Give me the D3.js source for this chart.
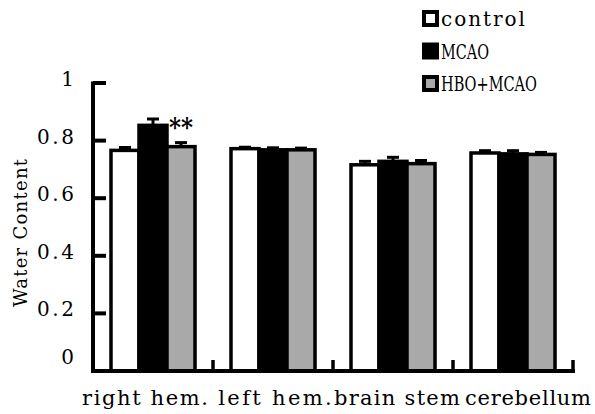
<!DOCTYPE html>
<html>
<head>
<meta charset="utf-8">
<script src="https://cdn.jsdelivr.net/npm/d3@7"></script>
<style>
  body { margin: 0; background: #fff; }
  text { font-family: "DejaVu Serif", "Liberation Serif", serif; fill: #000; }
</style>
</head>
<body>
<svg></svg>
<script>
const WIDTH = 595;
const HEIGHT = 414;
const BAR_STROKE = 3.5;
const GRAY = '#a9a9a9';

// data
const categories = ['right hem.', 'left hem.', 'brain stem', 'cerebellum'];
const seriesNames = ['control', 'MCAO', 'HBO+MCAO'];
const control = [0.766, 0.772, 0.716, 0.757];
const controlErr = [0.010, 0.005, 0.012, 0.008];
const mcao = [0.853, 0.768, 0.728, 0.754];
const mcaoErr = [0.022, 0.007, 0.014, 0.011];
const hbo = [0.779, 0.768, 0.720, 0.752];
const hboErr = [0.014, 0.006, 0.011, 0.007];
const yTicks = [0, 0.2, 0.4, 0.6, 0.8, 1];
const yTickLabels = ['0', '0.2', '0.4', '0.6', '0.8', '1'];
const labelShift = [-8, 2, 4, 15];

const fills = ['#fff', '#000', GRAY];
const values = [control, mcao, hbo];
const errors = [controlErr, mcaoErr, hboErr];

// the source font is a fixed-width one, so texts are fitted to a char width
const CHAR_W = 12.6;

// fit text to a length: open up spacing when short, squeeze glyphs when long
function fit(sel, len) {
    sel.each(function(d, i) {
        var t = d3.select(this);
        var target = len(d, i);
        if (!target) return;
        var natural = this.getComputedTextLength();
        t.attr('textLength', target)
            .attr('lengthAdjust', natural < target ? 'spacing' : 'spacingAndGlyphs');
    });
}

var svg = d3.select('svg')
    .attr('width', WIDTH)
    .attr('height', HEIGHT);

/* scales */
var x0 = d3.scaleBand()
    .domain(categories)
    .range([93, 573])
    .paddingInner(0.3)
    .paddingOuter(0.15);

var x1 = d3.scaleBand()
    .domain(seriesNames)
    .range([0, x0.bandwidth()]);

var y = d3.scaleLinear()
    .domain([0, 1])
    .range([371, 83]);

/* bars */
var groups = svg.append('g')
    .selectAll('g')
    .data(categories)
    .join('g')
    .attr('transform', d => 'translate(' + x0(d) + ',0)');

const cells = (c, i) => seriesNames.map((s, k) => ({ s, k, v: values[k][i], e: errors[k][i] }));

groups.selectAll('rect')
    .data(cells)
    .join('rect')
    .attr('x', d => x1(d.s))
    .attr('y', d => y(d.v))
    .attr('width', x1.bandwidth())
    .attr('height', d => y(0) - y(d.v))
    .attr('fill', d => fills[d.k])
    .attr('stroke', '#000')
    .attr('stroke-width', BAR_STROKE);

/* error bars, upper half only */
var err = groups.selectAll('g.err')
    .data(cells)
    .join('g')
    .attr('class', 'err')
    .attr('stroke', '#000')
    .attr('stroke-width', 3);

err.append('line')
    .attr('x1', d => x1(d.s) + x1.bandwidth() / 2)
    .attr('x2', d => x1(d.s) + x1.bandwidth() / 2)
    .attr('y1', d => y(d.v))
    .attr('y2', d => y(d.v + d.e));

err.append('line')
    .attr('x1', d => x1(d.s) + x1.bandwidth() / 2 - 6)
    .attr('x2', d => x1(d.s) + x1.bandwidth() / 2 + 6)
    .attr('y1', d => y(d.v + d.e))
    .attr('y2', d => y(d.v + d.e));

/* significance mark */
svg.append('text')
    .attr('x', x0(categories[0]) + x1('HBO+MCAO') + x1.bandwidth() / 2)
    .attr('y', y(hbo[0] + hboErr[0]) - 7)
    .attr('text-anchor', 'middle')
    .attr('font-size', 26)
    .attr('font-weight', 'bold')
    .attr('textLength', 24)
    .attr('lengthAdjust', 'spacingAndGlyphs')
    .text('**');

/* y axis */
svg.append('line')
    .attr('x1', 93).attr('x2', 93)
    .attr('y1', y(1) - 1.5).attr('y2', y(0) + 1.5)
    .attr('stroke', '#000').attr('stroke-width', 4);

svg.append('g')
    .selectAll('line')
    .data(yTicks.filter(d => d > 0))
    .join('line')
    .attr('x1', 93).attr('x2', 106)
    .attr('y1', d => y(d)).attr('y2', d => y(d))
    .attr('stroke', '#000').attr('stroke-width', 4);

svg.append('g')
    .selectAll('text')
    .data(yTicks)
    .join('text')
    .attr('x', 74)
    .attr('y', d => y(d) + (d === 0 ? -7 : 3))
    .attr('text-anchor', 'end')
    .attr('font-size', 20)
    .text((d, i) => yTickLabels[i])
    .call(fit, (d, i) => yTickLabels[i].length > 1 ? 37 : null);

svg.append('text')
    .attr('transform', 'translate(27,233) rotate(-90)')
    .attr('text-anchor', 'middle')
    .attr('font-size', 18)
    .text('Water Content')
    .call(fit, () => 148);

/* x axis */
svg.append('line')
    .attr('x1', 91).attr('x2', 575)
    .attr('y1', y(0)).attr('y2', y(0))
    .attr('stroke', '#000').attr('stroke-width', 4);

svg.append('g')
    .selectAll('line')
    .data(categories)
    .join('line')
    .attr('x1', d => x0(d) + x0.bandwidth() + x0.step() * 0.15)
    .attr('x2', d => x0(d) + x0.bandwidth() + x0.step() * 0.15)
    .attr('y1', y(0)).attr('y2', y(0) - 11)
    .attr('stroke', '#000').attr('stroke-width', 3.5);

svg.append('g')
    .selectAll('text')
    .data(categories)
    .join('text')
    .attr('x', (d, i) => x0(d) + x0.bandwidth() / 2 + labelShift[i])
    .attr('y', 405)
    .attr('text-anchor', 'middle')
    .attr('font-size', 21)
    .text(d => d)
    .call(fit, d => d.length * CHAR_W);

/* legend */
var legend = svg.append('g')
    .selectAll('g')
    .data(seriesNames)
    .join('g')
    .attr('transform', (d, i) => 'translate(422,' + (10 + i * 32.5) + ')');

legend.append('rect')
    .attr('x', 2).attr('y', 2)
    .attr('width', 13).attr('height', 13)
    .attr('fill', (d, i) => fills[i])
    .attr('stroke', '#000')
    .attr('stroke-width', 4);

legend.append('text')
    .attr('x', 19)
    .attr('y', 16)
    .attr('font-size', 20)
    .text(d => d)
    .call(fit, d => d.length * 12);
</script>
</body>
</html>
